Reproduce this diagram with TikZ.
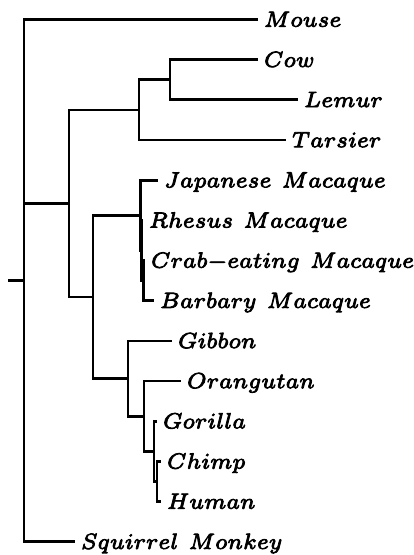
\documentclass[tikz,border=0pt]{standalone}
\usepackage{graphicx}
\newcommand{\lbl}[1]{\special{pdf:literal direct 2 Tr 0.25 w}\scalebox{3.143}{$\scriptstyle #1$}\special{pdf:literal direct 0 Tr}}
\begin{document}
\begin{tikzpicture}[x=1pt,y=-1pt,
  branch/.style={line width=2.8pt,line join=miter},
  leaf/.style={anchor=west,inner xsep=6pt,inner ysep=0pt,outer sep=0pt,
    text height=14.4pt,text depth=0pt}]
\useasboundingbox (0,0) rectangle (413,555);
% leaves
\node[leaf] (mouse) at (258,19.5) {\lbl{Mouse}};
\node[leaf] (cow) at (258,59.7) {\lbl{Cow}};
\node[leaf] (lemur) at (298,99.8) {\lbl{Lemur}};
\node[leaf] (tarsier) at (286,140.0) {\lbl{Tarsier}};
\node[leaf] (japanese) at (158,180.2) {\lbl{Japanese\ Macaque}};
\node[leaf] (rhesus) at (143,220.4) {\lbl{Rhesus\ Macaque}};
\node[leaf] (crab) at (145,260.5) {\lbl{Crab-eating\ Macaque}};
\node[leaf] (barbary) at (154,300.7) {\lbl{Barbary\ Macaque}};
\node[leaf] (gibbon) at (172,340.9) {\lbl{Gibbon}};
\node[leaf] (orangutan) at (181,381.0) {\lbl{Orangutan}};
\node[leaf] (gorilla) at (157,421.2) {\lbl{Gorilla}};
\node[leaf] (chimp) at (161,461.4) {\lbl{Chimp}};
\node[leaf] (human) at (161,501.5) {\lbl{Human}};
\node[leaf] (squirrel) at (75,541.7) {\lbl{Squirrel\ Monkey}};
% internal nodes
\coordinate (stub) at (8,280.6);
\coordinate (root) at (24,280.6);
\coordinate (A) at (69,203.4);
\coordinate (B) at (139,109.9);
\coordinate (D) at (170,79.8);
\coordinate (C) at (93,297.0);
\coordinate (M1) at (140.5,215.4);
\coordinate (M2) at (141.5,250.5);
\coordinate (M3) at (143.5,280.6);
\coordinate (G1) at (128,378.6);
\coordinate (G2) at (144,416.2);
\coordinate (G3) at (154,451.3);
\coordinate (G4) at (157,481.5);
% branches
\draw[branch] (stub) -- (root);
\draw[branch] (root) |- (mouse.west);
\draw[branch] (root) |- (squirrel.west);
\draw[branch] (root) |- (A);
\draw[branch] (A) |- (B);
\draw[branch] (A) |- (C);
\draw[branch] (B) |- (D);
\draw[branch] (B) |- (tarsier.west);
\draw[branch] (D) |- (cow.west);
\draw[branch] (D) |- (lemur.west);
\draw[branch] (C) |- (M1);
\draw[branch] (C) |- (G1);
\draw[branch] (M1) |- (japanese.west);
\draw[branch] (M1) |- (M2);
\draw[branch] (M2) |- (rhesus.west);
\draw[branch] (M2) |- (M3);
\draw[branch] (M3) |- (crab.west);
\draw[branch] (M3) |- (barbary.west);
\draw[branch] (G1) |- (gibbon.west);
\draw[branch] (G1) |- (G2);
\draw[branch] (G2) |- (orangutan.west);
\draw[branch] (G2) |- (G3);
\draw[branch] (G3) |- (gorilla.west);
\draw[branch] (G3) |- (G4);
\draw[branch] (G4) |- (chimp.west);
\draw[branch] (G4) |- (human.west);
\end{tikzpicture}
\end{document}
